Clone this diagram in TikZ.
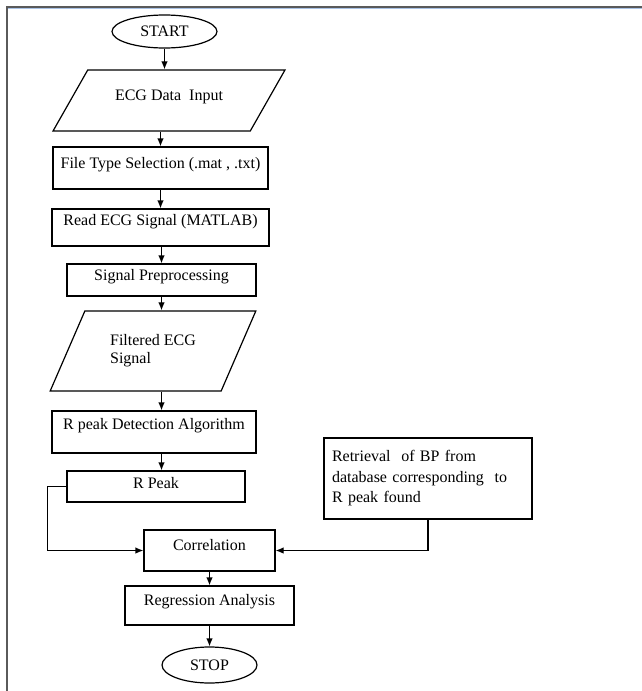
\documentclass[tikz,border=0pt]{standalone}
\usepackage{fontspec}
\setmainfont{Liberation Serif}
\usepackage{tikz}
\usetikzlibrary{arrows.meta, positioning, calc, shapes.geometric}
\definecolor{framegray}{RGB}{90,90,90}
\definecolor{frameblue}{RGB}{170,195,230}

\begin{document}
\begin{tikzpicture}[
    x=1pt, y=-1pt,
    >={Latex[length=8pt, width=6.5pt]},
    every node/.style={font=\fontsize{16}{20.5}\selectfont},
    box/.style={draw, line width=1.2pt, rectangle, inner sep=2pt},
    lift/.style={text height=12pt, text depth=#1},
    terminal/.style={draw, line width=1.2pt, ellipse, inner sep=0pt},
    io/.style={draw, line width=1.2pt, trapezium, trapezium stretches=true, inner sep=2pt},
    flow/.style={->, line width=1.2pt},
]
    \useasboundingbox (0,0) rectangle (642,691);

    % Page frame
    \draw[framegray, line width=1.3pt] (642,7) -- (7,7) -- (7,691);
    \draw[frameblue, line width=1pt] (8,8.8) -- (642,8.8);

    % Input side
    \node[terminal, minimum width=105pt, minimum height=33pt] (start) at (164.5,31.5) {START};
    \node[io, trapezium left angle=49.5, trapezium right angle=130.5, minimum width=232pt, minimum height=61pt, lift=12pt] (input) at (169,100.5) {ECG Data\ \ Input};
    \node[box, minimum width=215pt, minimum height=42pt, lift=11pt] (ftype) at (160.5,168) {File Type Selection (.mat , .txt)};
    \node[box, minimum width=217pt, minimum height=37pt, lift=16pt] (read) at (160.5,227.5) {Read ECG Signal (MATLAB)};
    \node[box, minimum width=189pt, minimum height=32pt, lift=11pt] (prep) at (161.5,280) {Signal Preprocessing};
    \node[io, trapezium left angle=58, trapezium right angle=122, minimum width=206pt, minimum height=80pt, align=left, font=\fontsize{16}{18}\selectfont] (filt) at (153,351) {Filtered ECG\\Signal};

    % Peak detection
    \node[box, minimum width=204pt, minimum height=42pt, lift=17pt] (rdet) at (154,432) {R peak Detection Algorithm};
    \node[box, minimum width=178pt, minimum height=31pt, lift=8pt] (rpeak) at (156,486.5) {R Peak};
    \node[box, text width=192pt, inner sep=8pt, align=left, minimum height=81pt] (bp) at (428,478.5) {Retrieval\ \ of BP from\\database corresponding\ \ to\\R peak found};

    % Output side
    \node[box, minimum width=131pt, minimum height=41pt, lift=12pt] (corr) at (209.5,550.5) {Correlation};
    \node[box, minimum width=169pt, minimum height=39pt, lift=12pt] (regr) at (209.5,605.5) {Regression Analysis};
    \node[terminal, minimum width=95pt, minimum height=36pt] (stop) at (209.5,665) {STOP};

    % Arrows
    \draw[flow] (start) -- (start |- input.north);
    \draw[flow] (ftype.north |- input.south) -- (ftype.north);
    \draw[flow] (ftype) -- (read);
    \draw[flow] (read.south -| prep) -- (prep.north);
    \draw[flow] (prep) -- (prep |- filt.north);
    \draw[flow] (prep |- filt.south) -- (prep |- rdet.north);
    \draw[flow] (prep |- rdet.south) -- (prep |- rpeak.north);
    \draw[flow] (rpeak.west) -- ++(-19,0) |- (corr.west);
    \draw[flow] (bp.south) |- (corr.east);
    \draw[flow] (corr) -- (regr);
    \draw[flow] (regr) -- (stop);
\end{tikzpicture}
\end{document}
